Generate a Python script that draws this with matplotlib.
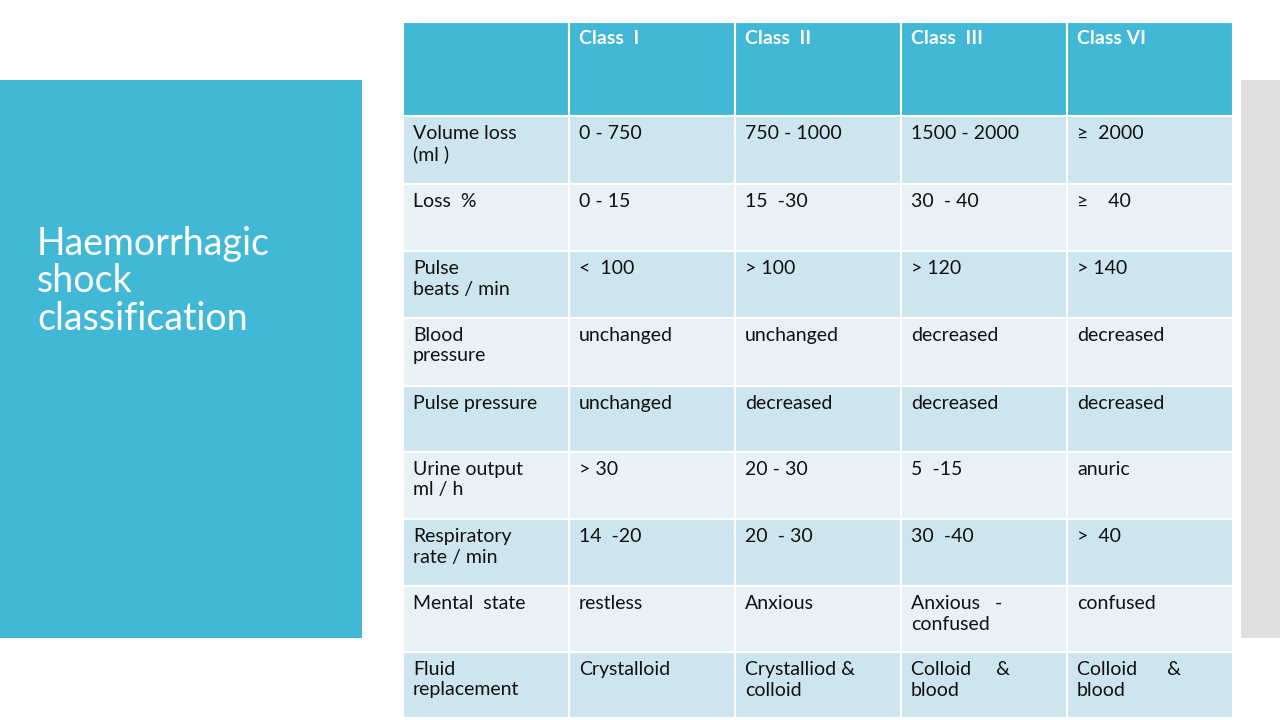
import matplotlib
matplotlib.use("Agg")
import matplotlib.pyplot as plt
from matplotlib.patches import Rectangle

title = "Haemorrhagic\nshock\nclassification"
headers = ["", "Class  I", "Class  II", "Class  III", "Class VI"]
row_labels = ["Volume loss\n(ml )", "Loss  %", "Pulse\nbeats / min", "Blood\npressure",
              "Pulse pressure", "Urine output\nml / h", "Respiratory\nrate / min",
              "Mental  state", "Fluid\nreplacement"]
class1 = ["0 - 750", "0 - 15", "<  100", "unchanged", "unchanged", "> 30", "14  -20", "restless", "Crystalloid"]
class2 = ["750 - 1000", "15  -30", "> 100", "unchanged", "decreased", "20 - 30", "20  - 30", "Anxious", "Crystalliod &\ncolloid"]
class3 = ["1500 - 2000", "30  - 40", "> 120", "decreased", "decreased", "5  -15", "30  -40", "Anxious   -\nconfused", "Colloid     &\nblood"]
class4 = ["\u2265  2000", "\u2265    40", "> 140", "decreased", "decreased", "anuric", ">  40", "confused", "Colloid      &\nblood"]

teal = "#41B8D5"
fig = plt.figure(figsize=(12.8, 7.2), dpi=100)
ax = fig.add_axes([0, 0, 1, 1])
ax.set_xlim(0, 1280); ax.set_ylim(720, 0); ax.axis("off")

ax.add_patch(Rectangle((0, 80), 362, 558, color=teal, lw=0))
ax.add_patch(Rectangle((1241, 80), 39, 558, color="#E0E0E0", lw=0))
ax.text(37, 226, title, color="white", fontsize=27, va="top", ha="left",
        family="Lato", linespacing=1.05)

xs = [403, 569, 735, 901, 1067, 1233]
ys = [22, 116, 184, 251, 318, 386, 452, 519, 586, 652, 718]
cols = [row_labels, class1, class2, class3, class4]
for c in range(5):
    ax.add_patch(Rectangle((xs[c], ys[0]), xs[c+1]-xs[c], ys[1]-ys[0],
                           facecolor=teal, edgecolor="white", lw=1.5))
    ax.text(xs[c] + 10, ys[0] + 8, headers[c], color="white", fontsize=14,
            fontweight="bold", va="top", family="Lato")
    for r in range(len(row_labels)):
        fc = "#CDE5EE" if r % 2 == 0 else "#E7F1F6"
        ax.add_patch(Rectangle((xs[c], ys[r+1]), xs[c+1]-xs[c], ys[r+2]-ys[r+1],
                               facecolor=fc, edgecolor="white", lw=1.5))
        ax.text(xs[c] + 10, ys[r+1] + 9, cols[c][r], color="#111111", fontsize=14,
                va="top", family="Lato", linespacing=1.25)

fig.savefig("out.png", dpi=100)
